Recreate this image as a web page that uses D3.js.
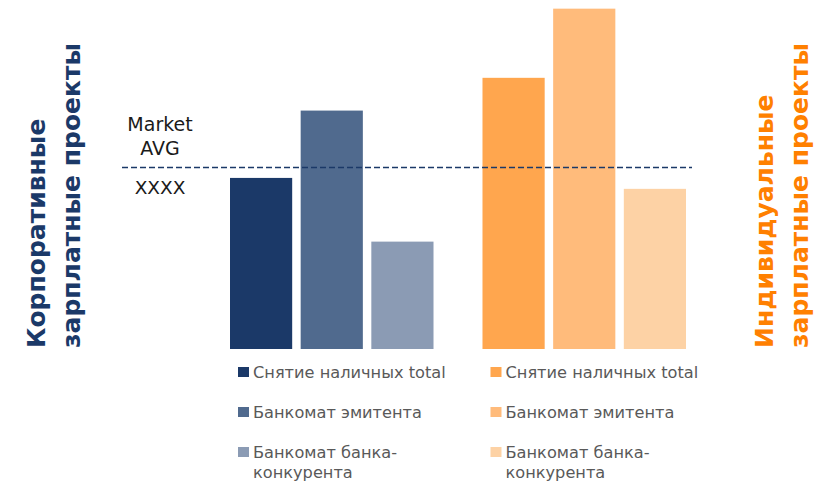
<!DOCTYPE html>
<html>
<head>
<meta charset="utf-8">
<script src="https://cdn.jsdelivr.net/npm/d3@7"></script>
<style>
  html, body { margin: 0; padding: 0; background: #fff; }
  svg { display: block; }
  text { font-family: "DejaVu Sans", Verdana, sans-serif; }
</style>
</head>
<body>
<svg id="chart" width="825" height="485"></svg>
<script>
// Withdrawal index by salary-project type (market average = 100)
const groups = ["Корпоративные зарплатные проекты", "Индивидуальные зарплатные проекты"];
const seriesNames = ["Снятие наличных total", "Банкомат эмитента", "Банкомат банка-конкурента"];
const corporateValues = [94, 131, 59];
const individualValues = [149, 187, 88];
const marketAvg = 100;
const marketLabel = ["Market", "AVG"];
const marketValueLabel = "XXXX";

const blueColors = ["#1b3968", "#506a8e", "#8b9bb4"];
const orangeColors = ["#ffa64e", "#ffbb7b", "#fdd2a5"];
const titleColors = ["#1b3968", "#ff8000"];

const groupData = [
  { name: groups[0], values: corporateValues, colors: blueColors },
  { name: groups[1], values: individualValues, colors: orangeColors }
];

const svg = d3.select("#chart");

const y = d3.scaleLinear().domain([0, marketAvg]).range([349, 167]);

const x0 = d3.scaleBand().domain(groups).range([230, 686]).paddingInner(0.194);
const x1 = d3.scaleBand().domain(seriesNames).range([0, x0.bandwidth()]).paddingInner(0.12);

// bars
const g = svg.selectAll("g.group").data(groupData).join("g")
  .attr("class", "group")
  .attr("transform", d => `translate(${x0(d.name)},0)`);

g.selectAll("rect.bar")
  .data(d => d.values.map((v, i) => ({ series: seriesNames[i], value: v, color: d.colors[i] })))
  .join("rect")
  .attr("class", "bar")
  .attr("x", d => x1(d.series))
  .attr("width", x1.bandwidth())
  .attr("y", d => y(d.value))
  .attr("height", d => y(0) - y(d.value))
  .attr("fill", d => d.color);

// market average reference line (half-pixel offset keeps it crisp)
svg.append("line")
  .attr("x1", 122).attr("x2", 692)
  .attr("y1", y(marketAvg) + 0.5).attr("y2", y(marketAvg) + 0.5)
  .attr("stroke", "#1b3968")
  .attr("stroke-width", 1.3)
  .attr("stroke-dasharray", "6,3");

svg.append("text")
  .attr("x", 161).attr("y", 131)
  .attr("text-anchor", "middle")
  .attr("font-size", 19)
  .attr("fill", "#1a1a1a")
  .selectAll("tspan").data(marketLabel).join("tspan")
  .attr("x", 160).attr("dy", (d, i) => i ? 24 : 0)
  .text(d => d);

svg.append("text")
  .attr("x", 160).attr("y", 194)
  .attr("text-anchor", "middle")
  .attr("font-size", 18.5)
  .attr("fill", "#1a1a1a")
  .text(marketValueLabel);

// legends under each group
const legendRows = [0, 40, 80];
const lg = g.append("g").attr("transform", "translate(8,0)");
lg.selectAll("rect.key")
  .data(d => d.colors)
  .join("rect")
  .attr("class", "key")
  .attr("x", 0)
  .attr("y", (d, i) => 367 + legendRows[i])
  .attr("width", 11).attr("height", 10)
  .attr("fill", d => d);

const legendLines = [["Снятие наличных total"], ["Банкомат эмитента"], ["Банкомат банка-", "конкурента"]];
lg.selectAll("text.item")
  .data(seriesNames)
  .join("text")
  .attr("class", "item")
  .attr("x", 15)
  .attr("y", (d, i) => 378 + legendRows[i])
  .attr("font-size", 16.2)
  .attr("fill", "#595959")
  .each(function(d, i) {
    d3.select(this).selectAll("tspan").data(legendLines[i]).join("tspan")
      .attr("x", 15).attr("dy", (t, j) => j ? 20 : 0)
      .text(t => t);
  });

// vertical group titles
const titles = [
  { lines: ["Корпоративные", "зарплатные проекты"], x: 45, color: titleColors[0] },
  { lines: ["Индивидуальные", "зарплатные проекты"], x: 773, color: titleColors[1] }
];
titles.forEach(t => {
  svg.append("text")
    .attr("transform", `translate(${t.x},348) rotate(-90)`)
    .attr("font-size", 25)
    .attr("font-weight", "bold")
    .attr("fill", t.color)
    .selectAll("tspan").data(t.lines).join("tspan")
    .attr("x", 0).attr("dy", (d, i) => i ? 35 : 0)
    .text(d => d);
});
</script>
</body>
</html>
